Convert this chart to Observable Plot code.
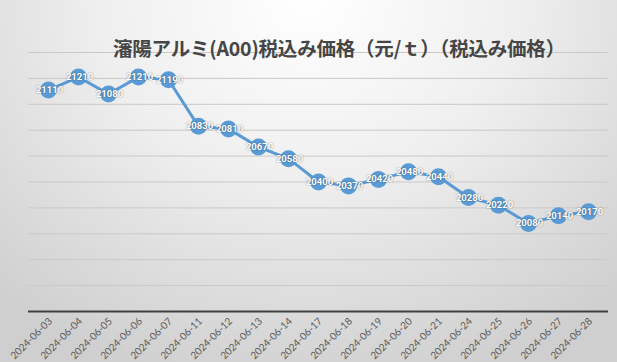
<!DOCTYPE html>
<html><head><meta charset="utf-8">
<script src="https://cdn.jsdelivr.net/npm/d3@7"></script>
<script src="https://cdn.jsdelivr.net/npm/@observablehq/plot@0.6"></script>
<style>
html,body{margin:0;padding:0;}
#wrap{position:relative;width:617px;height:362px;overflow:hidden;
background:radial-gradient(ellipse 75% 110% at 50% 0%, #ffffff 0%, #efefef 45%, #dadada 80%, #cfcfcf 100%);}
#title{position:absolute;left:113px;top:35px;text-align:left;
font-family:"Noto Sans CJK JP";font-weight:bold;font-size:19.5px;color:#454545;white-space:nowrap;z-index:2;line-height:26px;letter-spacing:-0.2px;}
#chart{position:absolute;left:0;top:0;}
.lbl text{text-shadow:0 0 1.5px rgba(0,0,0,0.55);}
</style></head>
<body><div id="wrap"><div id="title">瀋陽アルミ(A00)税込み価格（元/ｔ）（税込み価格）</div><div id="chart"></div></div>
<script>
const dates = ["2024-06-03","2024-06-04","2024-06-05","2024-06-06","2024-06-07","2024-06-11","2024-06-12","2024-06-13","2024-06-14","2024-06-17","2024-06-18","2024-06-19","2024-06-20","2024-06-21","2024-06-24","2024-06-25","2024-06-26","2024-06-27","2024-06-28"];
const prices = [21110,21210,21080,21210,21190,20830,20810,20670,20580,20400,20370,20420,20480,20440,20280,20220,20080,20140,20170];
const gridTicks = [19600,19800,20000,20200,20400,20600,20800,21000,21200,21400];

const data = dates.map((d,i)=>({date:d, price:prices[i]}));

const chart = Plot.plot({
  width: 617, height: 362,
  marginLeft: 28, marginRight: 9, marginTop: 52, marginBottom: 51,
  style: {background: "transparent", overflow: "visible"},
  x: {type: "point", domain: dates, padding: 0.5, label: null},
  y: {domain: [19400, 21400], axis: null},
  marks: [
    Plot.ruleY(gridTicks, {stroke: "#c9c9c9", strokeWidth: 1}),
    Plot.ruleY([19400], {stroke: "#404040", strokeWidth: 2}),
    Plot.axisX({tickRotate: -45, tickSize: 0, tickPadding: 8, dx: 2, fontSize: 10, fill: "#595959", fontFamily: "Lato", label: null}),
    Plot.line(data, {x: "date", y: "price", stroke: "#5b9bd5", strokeWidth: 3}),
    Plot.dot(data, {x: "date", y: "price", r: 8.5, fill: "#5b9bd5", stroke: "none"}),
    Plot.text(data, {x: "date", y: "price", dx: 1, text: d => String(d.price), fill: "white", fontWeight: "bold", fontSize: 9.5, fontFamily: "Roboto", className: "lbl"})
  ]
});
document.getElementById("chart").appendChild(chart);
</script></body></html>
